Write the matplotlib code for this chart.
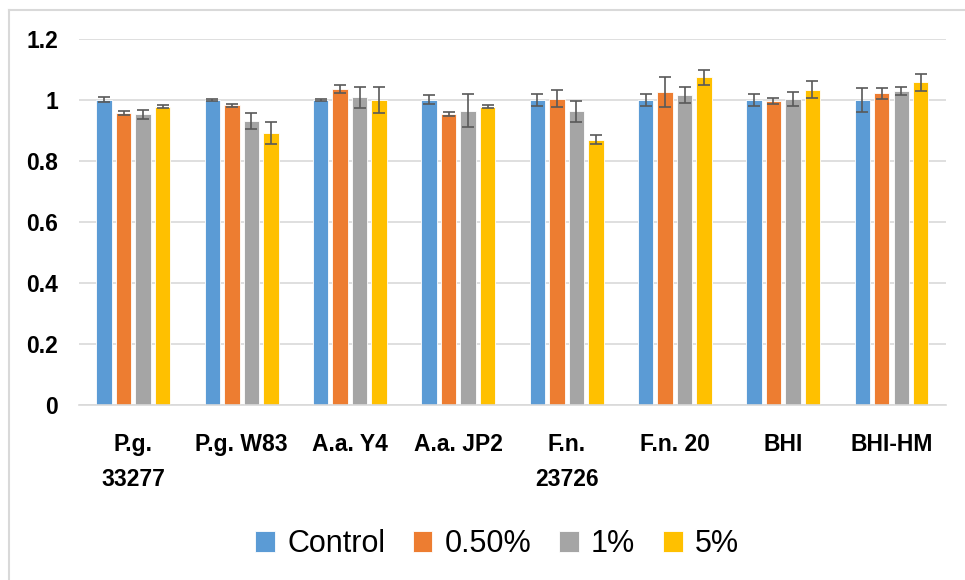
import numpy as np
import matplotlib.pyplot as plt
from matplotlib.lines import Line2D

plt.rcParams['font.family'] = ['Liberation Sans', 'DejaVu Sans']

groups = ["P.g.\n33277", "P.g. W83", "A.a. Y4", "A.a. JP2",
          "F.n.\n23726", "F.n. 20", "BHI", "BHI-HM"]
series = ["Control", "0.50%", "1%", "5%"]
colors = ["#5B9BD5", "#ED7D31", "#A5A5A5", "#FFC000"]

control = [1.000, 1.000, 1.000, 1.000, 1.000, 1.000, 1.000, 1.000]
half = [0.957, 0.982, 1.036, 0.953, 1.003, 1.025, 0.997, 1.021]
one = [0.953, 0.932, 1.008, 0.965, 0.962, 1.015, 1.002, 1.028]
five = [0.978, 0.890, 0.999, 0.978, 0.869, 1.074, 1.033, 1.058]

control_err = [0.008, 0.003, 0.003, 0.015, 0.019, 0.019, 0.019, 0.040]
half_err = [0.008, 0.005, 0.013, 0.007, 0.028, 0.049, 0.010, 0.018]
one_err = [0.015, 0.026, 0.035, 0.053, 0.033, 0.026, 0.023, 0.013]
five_err = [0.005, 0.036, 0.042, 0.005, 0.015, 0.025, 0.028, 0.028]

values = [control, half, one, five]
errors = [control_err, half_err, one_err, five_err]

fig = plt.figure(figsize=(9.65, 5.8), dpi=100)
ax = fig.add_axes([0.082, 0.302, 0.898, 0.631])

x = np.arange(len(groups))
step = 0.18
width = 0.142
for i in range(4):
    pos = x + (i - 1.5) * step
    ax.bar(pos, values[i], width, color=colors[i], edgecolor='white',
           linewidth=0.6, label=series[i], zorder=2)
    ax.errorbar(pos, values[i], yerr=errors[i], fmt='none', ecolor='#595959',
                elinewidth=1.2, capsize=4.5, capthick=1.2, zorder=3)

ax.set_xlim(-0.5, 7.5)
ax.set_ylim(0, 1.2)
ax.set_yticks([0, 0.2, 0.4, 0.6, 0.8, 1, 1.2])
ax.set_yticklabels(["0", "0.2", "0.4", "0.6", "0.8", "1", "1.2"], fontweight='bold')
ax.set_xticks(x)
ax.set_xticklabels(groups, linespacing=1.7, va='top', fontweight='bold')
ax.tick_params(axis='y', length=0, pad=15, labelsize=16.5)
ax.tick_params(axis='x', length=0, pad=20, labelsize=16.5)
ax.grid(axis='y', color='#d9d9d9', linewidth=1.2, zorder=0)
ax.set_axisbelow(True)
for s in ['top', 'right', 'left']:
    ax.spines[s].set_visible(False)
ax.spines['bottom'].set_color('#d9d9d9')
ax.spines['bottom'].set_linewidth(1.2)

fig.legend(loc='center', bbox_to_anchor=(0.515, 0.062), ncol=4, frameon=False,
           fontsize=22, handlelength=0.65, handleheight=0.65, handletextpad=0.4,
           columnspacing=0.9)

# outer chart border (left and top only visible)
fig.add_artist(Line2D([9 / 965, 9 / 965], [0, 1 - 10 / 580],
                      transform=fig.transFigure, color='#d9d9d9', linewidth=1.5))
fig.add_artist(Line2D([9 / 965, 1], [1 - 10 / 580, 1 - 10 / 580],
                      transform=fig.transFigure, color='#d9d9d9', linewidth=1.5))

fig.savefig("out.png", dpi=100, facecolor='white')
